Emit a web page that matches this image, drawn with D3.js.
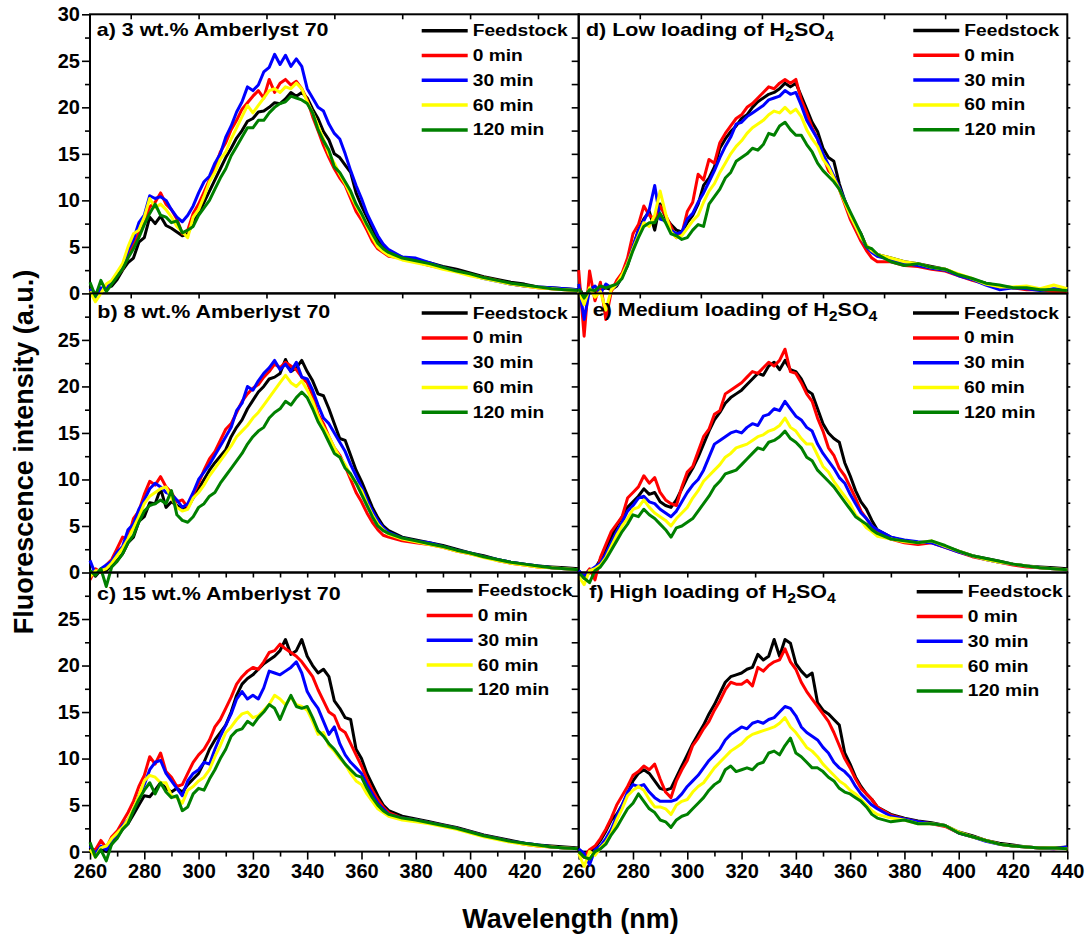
<!DOCTYPE html>
<html>
<head>
<meta charset="utf-8">
<script src="https://cdn.jsdelivr.net/npm/d3@7"></script>
<style>
  body { margin: 0; background: #fff; }
  text { font-family: "Liberation Sans", Arial, sans-serif; font-weight: bold; fill: #000; }
</style>
</head>
<body>
<svg id="chart" width="1091" height="935"></svg>
<script>
// wavelength grid (nm)
const wavelength = [
  260,262,264,266,268,270,272,274,276,278,
  280,282,284,286,288,290,292,294,296,298,
  300,302,304,306,308,310,312,314,316,318,
  320,322,324,326,328,330,332,334,336,338,
  340,342,344,346,348,350,352,354,356,358,
  360,362,364,366,368,370,
  375,380,385,390,395,400,405,410,415,420,425,430,435,440
];

// a) 3 wt.% Amberlyst 70
const pa_feed = [0.8,-0.3,0.3,0.6,0.8,1.5,2.5,3.3,3.8,5.5, 6.0,8.2,7.5,8.3,7.3,7.0,6.6,6.2,6.4,7.6, 8.6,9.8,11.0,12.2,13.4,14.6,15.6,16.7,17.5,18.5, 18.8,19.5,19.6,20.0,20.5,20.4,20.9,21.6,21.2,21.6, 21.0,19.8,18.8,17.4,16.5,15.0,14.6,13.8,13.0,10.8, 9.4,8.2,7.0,5.8,5.0,4.5, 3.9,3.6,3.3,2.9,2.6,2.2,1.8,1.5,1.2,1.0,0.7,0.6,0.5,0.4];
const pa_0min = [0.5,0.0,0.4,0.9,1.2,1.9,2.6,4.0,5.2,6.5, 7.8,9.3,9.8,10.8,9.6,9.0,8.0,6.4,6.8,8.6, 9.6,10.9,12.2,13.5,15.2,16.2,17.6,18.6,19.8,20.5, 21.2,21.8,21.0,23.0,21.6,22.6,23.0,22.4,22.8,22.0, 20.8,19.0,17.5,15.9,14.6,13.4,12.4,11.6,10.2,8.8, 7.9,6.8,5.6,4.8,4.4,4.0, 3.8,3.4,3.0,2.7,2.4,2.0,1.7,1.4,1.0,0.8,0.6,0.5,0.4,0.3];
const pa_30min = [0.5,-0.4,0.6,0.4,1.3,2.0,2.8,4.6,5.8,7.6, 8.4,10.5,10.2,10.4,10.0,9.0,8.2,7.7,8.4,9.4, 10.8,12.0,12.6,14.0,15.0,16.8,18.0,19.5,20.6,22.2, 21.8,22.4,23.8,24.3,25.7,24.6,25.6,24.4,25.2,24.4, 22.0,21.0,20.0,19.6,18.2,17.2,16.6,15.0,13.2,11.6, 10.2,8.6,7.4,6.2,5.3,4.7, 3.9,3.8,3.3,2.8,2.4,2.0,1.6,1.3,1.0,0.8,0.7,0.6,0.5,0.4];
const pa_60min = [0.2,-0.9,0.0,1.0,1.4,2.3,3.2,5.0,6.4,6.8, 8.2,10.2,9.2,9.6,9.0,8.2,7.2,6.6,6.0,8.2, 9.0,10.4,12.0,13.0,14.4,15.2,16.6,17.8,19.0,20.2, 19.4,20.2,21.0,21.8,22.0,21.6,22.2,22.0,22.6,22.0, 20.6,19.4,18.0,16.6,15.0,14.0,12.8,11.8,10.6,9.4, 8.4,7.2,6.0,5.0,4.5,4.1, 3.6,3.3,3.0,2.6,2.3,1.9,1.6,1.3,1.0,0.8,0.6,0.5,0.4,0.3];
const pa_120min = [1.2,-0.3,1.4,0.2,1.0,1.8,2.6,3.8,4.8,6.0, 7.4,8.6,9.6,8.4,8.2,7.6,7.8,6.5,6.8,7.2, 8.4,9.2,10.0,11.2,12.4,13.4,14.8,15.8,16.8,17.8, 17.8,18.6,18.6,19.4,20.0,20.4,20.6,21.2,21.0,20.8, 20.4,19.4,17.6,16.4,15.4,13.6,13.0,12.0,11.0,9.6, 8.6,7.4,6.4,5.4,4.8,4.4, 3.8,3.5,3.2,2.8,2.4,2.1,1.7,1.4,1.1,0.9,0.7,0.5,0.4,0.3];

// b) 8 wt.% Amberlyst 70
const pb_feed = [0.2,-0.4,0.3,0.2,0.8,1.3,2.0,3.2,3.8,5.5, 6.0,7.5,7.4,9.0,7.0,7.6,7.2,6.8,7.0,8.0, 9.0,10.0,11.0,11.8,12.5,13.2,14.6,15.6,16.4,17.6, 18.5,19.4,20.0,20.8,21.0,21.4,22.9,21.6,22.0,22.8, 21.6,20.6,19.2,19.0,17.6,16.0,14.4,14.2,12.6,11.0, 9.8,8.4,7.0,5.9,5.0,4.5, 3.8,3.5,3.2,2.9,2.5,2.1,1.8,1.4,1.1,0.9,0.7,0.6,0.5,0.4];
const pb_0min = [-0.8,0.4,0.0,0.8,1.4,2.6,3.8,3.6,5.8,6.6, 8.4,9.8,9.4,10.3,9.2,8.6,7.6,7.8,7.0,8.4, 9.6,11.0,12.2,13.0,14.2,15.4,16.0,17.2,18.4,19.2, 19.8,20.2,21.0,21.6,22.4,22.0,22.6,22.2,21.8,21.0, 20.4,19.0,17.0,16.0,14.6,13.4,12.6,11.4,10.0,8.6, 7.6,6.4,5.4,4.6,4.0,3.8, 3.4,3.2,3.0,2.7,2.3,2.0,1.7,1.3,1.0,0.8,0.6,0.5,0.4,0.3];
const pb_30min = [1.3,-0.2,0.4,0.8,1.2,2.2,2.8,4.6,5.2,6.8, 7.8,9.0,9.6,9.2,8.6,8.4,7.8,7.0,7.4,8.6, 10.0,10.8,11.6,12.6,13.6,14.6,15.6,17.4,18.2,20.0, 19.6,20.6,21.4,22.0,22.8,21.8,22.4,21.6,22.6,21.0, 20.8,19.6,18.0,16.6,16.0,15.0,14.0,13.0,11.6,10.4, 9.2,7.8,6.6,5.6,4.8,4.3, 3.7,3.4,3.2,2.8,2.4,2.1,1.7,1.4,1.1,0.9,0.7,0.5,0.4,0.3];
const pb_60min = [-0.5,0.2,0.2,0.4,1.0,1.8,2.6,3.6,4.8,6.0, 7.4,8.2,8.6,9.0,9.2,8.0,7.0,6.6,6.8,8.0, 8.6,9.4,10.4,11.2,12.0,12.8,13.6,14.6,15.2,15.8, 16.6,17.2,18.0,18.8,19.6,20.4,21.2,20.4,20.0,20.6, 19.6,18.4,16.8,15.6,14.6,13.4,12.4,11.6,10.4,9.6, 8.8,7.4,6.2,5.2,4.6,4.1, 3.6,3.3,3.0,2.7,2.3,2.0,1.6,1.3,1.0,0.8,0.6,0.5,0.4,0.3];
const pb_120min = [0.2,-0.3,0.4,-1.5,0.6,1.2,2.0,3.2,4.0,5.4, 6.6,7.2,7.4,7.8,7.4,8.8,6.2,5.6,5.4,6.0, 7.0,7.4,8.2,8.6,9.6,10.4,11.2,12.0,12.8,13.8, 14.6,15.2,15.6,16.6,17.2,17.6,18.4,18.0,18.8,19.4, 18.8,17.6,16.2,15.2,14.0,12.8,12.4,11.2,10.6,9.6, 8.4,7.2,6.0,5.0,4.5,4.2, 3.7,3.4,3.1,2.8,2.4,2.1,1.7,1.4,1.1,0.9,0.7,0.5,0.4,0.3];

// c) 15 wt.% Amberlyst 70
const pc_feed = [0.4,-0.4,0.4,0.0,0.8,1.6,2.4,3.0,4.0,5.0, 6.0,5.9,6.6,7.4,6.8,6.4,6.8,6.4,7.2,7.8, 8.4,9.6,11.0,12.0,12.8,13.6,15.0,16.8,18.0,18.6, 19.0,19.6,20.2,20.6,21.0,21.6,22.8,21.2,21.6,22.8, 21.0,20.0,19.2,19.6,18.8,16.2,15.4,14.4,14.2,11.0, 10.0,8.4,7.2,6.0,5.0,4.4, 3.8,3.5,3.2,2.9,2.6,2.2,1.8,1.5,1.2,0.9,0.7,0.6,0.5,0.4];
const pc_0min = [0.3,0.2,1.2,0.4,1.6,2.2,3.2,4.2,5.4,7.0, 8.2,10.2,9.4,10.6,8.6,8.0,7.0,7.2,8.4,9.6, 10.4,11.0,12.0,13.4,14.2,15.4,16.6,18.0,18.8,19.4, 19.8,19.6,20.4,21.4,21.6,22.3,21.8,21.4,21.0,20.4, 19.6,18.8,17.4,16.2,15.0,14.6,13.2,12.8,11.6,10.4, 9.2,7.8,6.6,5.6,4.8,4.2, 3.6,3.4,3.1,2.8,2.5,2.1,1.7,1.4,1.1,0.8,0.6,0.5,0.4,0.3];
const pc_30min = [0.6,-0.2,0.6,0.2,1.2,1.8,2.8,3.4,4.4,6.0, 7.2,8.8,9.6,9.8,8.4,7.6,6.8,6.0,7.6,8.4, 8.8,9.6,9.4,11.0,12.4,13.6,14.8,16.4,17.2,16.4, 16.8,16.4,17.6,19.4,19.2,19.0,19.4,19.8,20.4,19.2, 17.2,16.2,15.4,14.0,12.6,13.4,11.6,10.4,9.6,9.0, 8.4,7.2,6.2,5.2,4.6,4.0, 3.6,3.4,3.1,2.8,2.5,2.1,1.7,1.4,1.1,0.9,0.7,0.5,0.4,0.3];
const pc_60min = [0.2,-0.6,0.4,0.6,1.4,2.0,2.6,3.4,4.6,6.0, 7.6,8.2,8.0,7.4,7.4,6.0,5.8,5.2,6.6,7.0, 7.6,8.0,8.8,10.2,11.4,12.8,13.4,14.2,14.8,15.0, 14.4,14.6,15.2,15.8,16.8,16.4,15.8,16.6,15.8,15.6, 15.2,14.0,12.6,12.8,11.4,10.8,10.0,9.4,8.4,7.6, 7.2,6.2,5.4,4.6,4.2,3.8, 3.4,3.2,3.0,2.7,2.4,2.0,1.6,1.3,1.0,0.8,0.6,0.5,0.4,0.3];
const pc_120min = [1.0,-0.6,0.2,-1.0,0.8,1.4,2.4,3.0,4.4,5.6, 6.6,7.4,6.2,7.4,6.4,5.8,6.0,4.4,4.8,6.2, 6.8,6.6,7.8,8.8,10.0,11.0,12.4,13.0,13.2,14.0, 13.6,14.4,15.0,15.8,15.4,14.2,15.6,16.8,15.6,15.4, 15.6,14.4,13.0,12.4,11.6,11.0,10.2,9.4,8.8,8.2, 8.0,6.8,5.8,5.0,4.4,4.0, 3.6,3.4,3.1,2.8,2.5,2.1,1.7,1.4,1.1,0.9,0.7,0.5,0.4,0.3];

// d) Low loading of H2SO4
const pd_feed = [0.8,-0.5,0.5,0.2,0.4,0.6,0.4,0.8,1.8,3.0, 5.0,6.8,8.0,8.8,6.8,9.6,8.2,7.4,6.8,6.6, 7.6,8.4,9.6,11.6,12.4,13.6,15.6,16.6,17.4,18.0, 18.8,19.2,20.0,20.6,21.0,21.4,21.6,22.0,22.6,22.2, 22.6,21.2,19.8,18.4,17.4,15.6,14.6,14.2,11.8,10.0, 8.6,7.4,6.4,5.0,4.6,4.2, 3.8,3.4,3.2,2.9,2.6,2.0,1.5,1.1,0.8,0.6,0.6,0.4,0.4,0.3];
const pd_0min = [2.5,-4.6,2.4,-0.8,1.2,-2.8,0.2,1.4,2.2,3.8, 6.4,7.4,9.4,8.4,8.0,9.4,8.4,7.2,6.0,6.4, 8.8,9.8,12.8,12.2,14.4,14.0,16.2,17.2,18.0,18.8, 19.2,20.0,20.4,21.0,21.6,22.2,22.0,22.6,23.0,22.6, 23.0,20.8,19.4,17.8,16.6,14.8,13.2,12.6,11.2,9.6, 8.0,6.8,5.6,4.6,3.8,3.4, 3.4,3.0,2.9,2.6,2.4,1.9,1.4,1.0,0.6,0.6,0.4,0.4,0.2,0.1];
const pd_30min = [1.0,-2.8,0.4,0.8,0.0,1.0,0.6,0.9,1.8,3.2, 5.0,6.8,7.8,9.0,11.6,8.0,7.8,6.8,6.4,6.6, 8.0,8.6,9.8,10.8,12.0,13.2,14.6,15.8,16.8,18.2, 18.4,19.0,19.4,19.8,20.2,20.8,21.0,21.2,21.8,21.4, 21.6,20.2,18.6,17.6,16.6,15.0,13.8,12.6,11.4,10.0, 8.4,7.2,6.0,5.0,4.4,4.0, 3.6,3.2,3.0,2.7,2.5,1.9,1.5,0.9,0.4,0.6,0.5,0.3,0.5,0.4];
const pd_60min = [0.2,-1.2,0.6,-0.4,0.2,-1.8,0.4,1.0,2.0,3.2, 4.8,6.2,7.6,7.2,8.4,11.0,8.6,6.6,6.0,6.2, 7.0,7.8,8.4,9.8,11.0,11.8,13.0,14.0,15.0,15.8, 16.4,17.2,17.8,18.2,18.6,19.2,19.6,19.4,20.0,19.4, 19.8,19.0,17.6,16.6,15.8,14.4,13.6,12.4,11.2,9.8, 8.4,7.2,6.0,5.2,4.6,4.2, 3.8,3.4,3.2,2.8,2.6,2.1,1.6,1.0,0.7,0.7,0.8,0.5,0.9,0.5];
const pd_120min = [0.5,-0.5,0.4,0.3,0.8,0.6,0.8,1.0,1.6,3.0, 4.6,6.0,7.2,7.6,7.6,8.6,7.6,6.4,6.2,5.8, 6.0,6.8,7.4,7.2,9.6,10.4,11.2,12.4,13.0,14.2, 14.6,15.0,15.6,15.4,16.0,17.2,17.0,18.0,18.4,17.6, 17.0,17.0,16.0,15.2,14.0,13.2,12.6,12.0,11.2,10.0, 8.8,7.6,6.4,5.0,4.8,4.2, 3.4,3.0,3.2,2.8,2.6,2.0,1.6,1.1,0.9,0.6,0.6,0.4,0.4,0.3];

// e) Medium loading of H2SO4
const pe_feed = [0.2,-0.6,0.0,0.4,1.4,2.6,3.8,5.0,6.0,7.0, 7.6,8.2,9.0,8.4,8.6,7.6,7.2,7.0,7.8,9.0, 10.2,11.2,12.4,13.8,15.2,16.4,17.2,18.2,18.8,19.2, 19.6,20.2,20.8,21.4,21.2,22.2,22.6,21.8,22.8,21.8, 21.6,20.8,19.6,19.2,17.6,16.0,15.0,14.4,14.0,11.8, 10.4,8.8,7.6,6.8,5.6,4.6, 3.8,3.4,3.2,3.3,2.8,2.3,1.8,1.5,1.2,0.9,0.7,0.6,0.5,0.4];
const pe_0min = [0.0,-0.4,0.4,-0.8,1.6,3.0,4.4,5.2,6.0,8.0, 8.6,9.2,10.4,9.6,10.2,8.6,7.8,7.4,7.2,9.2, 10.8,11.4,13.0,14.6,15.4,17.0,17.4,19.2,19.6,20.0, 20.4,21.0,21.6,21.4,22.0,22.6,22.2,22.8,24.0,21.6, 21.4,20.4,19.2,18.4,16.6,15.2,13.4,12.6,11.2,10.4, 9.2,8.0,6.6,5.8,5.0,4.2, 3.6,3.2,3.0,3.2,2.7,2.2,1.7,1.4,1.1,0.8,0.6,0.5,0.4,0.3];
const pe_30min = [0.2,-0.4,0.2,0.6,1.0,2.0,3.2,4.4,5.4,6.6, 7.2,8.0,8.2,7.6,7.4,6.8,6.4,6.0,6.6,7.6, 8.6,9.4,10.0,11.0,12.4,13.8,14.2,14.6,15.0,15.2, 15.0,15.6,16.0,15.8,16.8,17.0,17.6,17.4,18.4,17.6, 16.8,16.4,15.6,15.2,13.8,12.8,12.0,11.2,10.2,9.6, 8.4,7.4,6.4,5.8,5.0,4.6, 3.8,3.5,3.3,3.2,2.7,2.2,1.8,1.4,1.1,0.9,0.7,0.5,0.4,0.3];
const pe_60min = [-0.4,-1.3,0.2,0.4,0.8,1.6,2.8,4.0,5.0,5.8, 6.8,7.0,7.8,7.0,6.4,6.0,5.6,5.0,5.8,6.4, 7.0,8.0,8.8,9.8,10.4,11.0,11.6,12.4,12.8,13.4, 13.6,13.8,14.2,14.6,14.8,15.2,15.4,15.8,16.6,15.6, 15.2,14.4,13.8,13.8,12.6,11.4,10.8,9.8,9.0,8.2, 7.4,6.2,5.6,4.8,4.4,3.9, 3.6,3.3,3.2,3.4,2.8,2.3,1.8,1.4,1.1,0.9,0.7,0.5,0.4,0.3];
const pe_120min = [0.0,-0.6,-1.1,0.2,0.6,1.4,2.4,3.4,4.4,5.2, 6.2,6.0,6.8,6.2,5.8,5.2,4.6,3.8,4.8,5.0, 5.4,5.8,6.6,7.4,8.2,9.2,9.8,10.6,10.8,11.0, 11.6,12.2,12.8,13.4,13.2,14.0,14.2,14.6,15.2,14.4, 14.0,13.4,12.4,12.0,11.0,10.4,9.8,9.2,8.4,7.6, 6.8,6.0,5.6,5.2,4.6,4.2, 3.6,3.4,3.2,3.4,2.9,2.3,1.8,1.5,1.2,0.9,0.7,0.5,0.4,0.3];

// f) High loading of H2SO4
const pf_feed = [0.2,-0.4,0.0,0.4,1.2,2.2,3.4,4.0,5.0,6.2, 7.6,8.4,8.8,8.4,7.6,6.8,6.6,6.8,8.0,9.2, 10.4,11.6,12.6,13.6,14.8,15.8,17.0,18.2,18.8,19.0, 19.2,19.6,19.8,21.2,20.6,21.0,22.8,21.0,22.8,22.4, 20.2,19.4,18.8,19.2,16.0,15.2,14.8,14.2,13.6,10.6, 9.4,8.0,7.0,6.2,5.6,4.8, 4.0,3.6,3.3,3.1,2.8,2.1,1.7,1.2,0.9,0.7,0.5,0.4,0.4,0.5];
const pf_0min = [0.0,-0.6,0.2,0.6,1.4,2.4,3.6,5.0,6.0,7.0, 8.2,8.6,9.2,8.8,9.4,7.8,6.4,5.8,7.6,8.8, 9.8,11.4,12.2,13.2,14.0,15.2,16.2,17.4,18.2,18.0, 18.0,18.4,17.8,19.8,19.4,20.0,20.4,20.6,21.8,20.4, 19.6,18.2,17.2,16.4,15.6,14.8,14.0,12.8,11.4,10.0, 9.0,7.8,6.8,6.2,5.6,4.8, 3.9,3.5,3.2,3.0,2.7,2.0,1.6,1.2,0.8,0.6,0.5,0.4,0.3,0.4];
const pf_30min = [0.3,-0.2,-1.4,0.2,0.6,1.4,2.4,3.8,5.0,6.4, 7.2,7.0,7.2,6.4,5.8,5.4,5.4,5.4,5.6,6.2, 7.0,7.6,8.2,9.0,9.8,10.4,11.0,12.0,12.6,13.0, 13.4,13.2,13.8,14.0,13.8,14.2,14.4,15.0,15.6,15.4, 14.6,13.4,12.8,12.4,12.0,11.2,10.6,9.6,9.0,8.6, 8.0,7.0,6.2,5.6,5.0,4.6, 3.8,3.5,3.2,3.0,2.8,2.0,1.6,1.1,0.8,0.6,0.5,0.4,0.3,0.5];
const pf_60min = [-0.2,-1.6,0.0,-0.4,0.4,1.0,2.0,3.4,4.6,6.0, 6.6,7.0,6.6,5.6,4.8,4.8,4.6,4.0,5.0,5.4, 5.6,6.4,7.0,7.4,8.2,9.0,9.6,10.2,10.8,11.2, 11.6,12.2,12.6,12.8,13.0,13.2,13.4,13.8,14.4,13.4, 12.8,12.0,11.2,10.8,10.2,9.4,8.8,8.2,7.6,7.2, 6.6,6.2,5.6,5.0,4.4,4.0, 3.6,3.4,3.0,3.0,2.8,2.1,1.6,1.2,0.8,0.6,0.5,0.4,0.4,0.3];
const pf_120min = [0.0,-0.6,-0.8,0.0,0.3,0.8,1.8,2.6,3.6,4.6, 5.2,6.2,5.4,4.6,4.2,3.4,3.2,2.6,3.4,3.8, 4.0,4.6,5.2,5.8,6.6,7.2,7.6,8.8,9.2,8.6, 8.8,9.0,8.8,9.4,9.6,10.6,10.8,10.4,11.4,12.2, 10.6,10.2,9.6,9.0,9.0,8.6,8.0,7.6,6.8,6.4, 6.2,5.8,5.4,4.8,4.0,3.6, 3.2,3.4,3.0,3.0,2.8,2.0,1.6,1.2,0.8,0.6,0.5,0.4,0.4,0.3];

const seriesNames = ["Feedstock", "0 min", "30 min", "60 min", "120 min"];
const seriesColors = ["#000000", "#ff0000", "#0000ff", "#ffff00", "#008000"];

// ticks
const xLabelTicks = [260, 280, 300, 320, 340, 360, 380, 400, 420, 440];
const xMinorTicks = [270, 290, 310, 330, 350, 370, 390, 410, 430];
const xTicks25 = [275, 300, 325, 350, 375, 400, 425];
const xTicks225 = [282.5, 305, 327.5, 350, 372.5, 395, 417.5];
const yLabelTicks = [0, 5, 10, 15, 20, 25, 30];
const yMinorTicks = [2.5, 7.5, 12.5, 17.5, 22.5, 27.5];
const yAllTicks = [2.5, 5, 7.5, 10, 12.5, 15, 17.5, 20, 22.5, 25, 27.5];

const panels = [
  {col: 0, row: 0, title: [["a) 3 wt.% Amberlyst 70"]], data: [pa_feed, pa_0min, pa_30min, pa_60min, pa_120min],
   bottom: "t25", tx: 6.7, ty: 26.4, lx: 331.7, ly: 16.4},
  {col: 0, row: 1, title: [["b) 8 wt.% Amberlyst 70"]], data: [pb_feed, pb_0min, pb_30min, pb_60min, pb_120min],
   bottom: "t10", tx: 7.3, ty: 29.4, lx: 331.7, ly: 19.7},
  {col: 0, row: 2, title: [["c) 15 wt.% Amberlyst 70"]], data: [pc_feed, pc_0min, pc_30min, pc_60min, pc_120min],
   bottom: "label", tx: 7, ty: 32.5, lx: 336.7, ly: 18.2},
  {col: 1, row: 0, title: [["d) Low loading of H"], ["2", 1], ["SO"], ["4", 1]], data: [pd_feed, pd_0min, pd_30min, pd_60min, pd_120min],
   bottom: "t225", tx: 7.3, ty: 26.2, lx: 334.6, ly: 16.2},
  {col: 1, row: 1, title: [["e) Medium loading of H"], ["2", 1], ["SO"], ["4", 1]], data: [pe_feed, pe_0min, pe_30min, pe_60min, pe_120min],
   bottom: "t25", tx: 14, ty: 27.4, lx: 334.3, ly: 19.7},
  {col: 1, row: 2, title: [["f) High loading of H"], ["2", 1], ["SO"], ["4", 1]], data: [pf_feed, pf_0min, pf_30min, pf_60min, pf_120min],
   bottom: "label", tx: 10.6, ty: 30.2, lx: 338, ly: 19.2}
];

const colX = [[90, 578.7], [578.7, 1067.3]];
const TOP = 14.3, PH = 279.1;
const svg = d3.select("#chart");
svg.append("rect").attr("width", 1091).attr("height", 935).attr("fill", "#fff");

function styleAxis(g) {
  g.select(".domain").remove();
  g.selectAll(".tick line").attr("stroke", "#000").attr("stroke-width", 1.6);
  g.selectAll(".tick text").style("font-size", "20px").style("font-weight", "bold")
    .style("font-family", '"Liberation Sans", Arial, sans-serif');
}

panels.forEach(p => {
  const x0 = colX[p.col][0], x1 = colX[p.col][1];
  const top = TOP + p.row * PH, bot = top + PH;
  const x = d3.scaleLinear().domain([260, 440]).range([x0, x1]);
  const y = d3.scaleLinear().domain([0, 30]).range([bot, top]);
  const g = svg.append("g");

  // bottom ticks
  if (p.bottom === "label") {
    const labs = p.col === 0 ? xLabelTicks.slice(0, -1) : xLabelTicks;
    g.append("g").attr("transform", `translate(0,${bot})`)
      .call(d3.axisBottom(x).tickValues(labs).tickSize(8).tickPadding(4.5).tickFormat(d3.format("d")))
      .call(styleAxis);
    g.append("g").attr("transform", `translate(0,${bot})`)
      .call(d3.axisBottom(x).tickValues(xMinorTicks).tickSize(5).tickFormat(""))
      .call(styleAxis);
  } else {
    const tv = p.bottom === "t25" ? xTicks25 : p.bottom === "t225" ? xTicks225 : xLabelTicks.slice(1, -1).concat(xMinorTicks);
    g.append("g").attr("transform", `translate(0,${bot})`)
      .call(d3.axisBottom(x).tickValues(tv).tickSize(5).tickFormat(""))
      .call(styleAxis);
    if (p.row === 0) {
      g.append("g").attr("transform", `translate(0,${top})`)
        .call(d3.axisBottom(x).tickValues(tv).tickSize(5).tickFormat(""))
        .call(styleAxis);
    }
  }

  // left ticks
  if (p.col === 0) {
    const labs = p.row === 0 ? yLabelTicks : yLabelTicks.slice(0, -1);
    g.append("g").attr("transform", `translate(${x0},0)`)
      .call(d3.axisLeft(y).tickValues(labs).tickSize(8).tickPadding(2))
      .call(styleAxis);
    g.append("g").attr("transform", `translate(${x0},0)`)
      .call(d3.axisLeft(y).tickValues(yMinorTicks).tickSize(5).tickFormat(""))
      .call(styleAxis);
  } else {
    g.append("g").attr("transform", `translate(${x0},0)`)
      .call(d3.axisLeft(y).tickValues(yAllTicks).tickSize(7).tickFormat(""))
      .call(styleAxis);
    g.append("g").attr("transform", `translate(${x1},0)`)
      .call(d3.axisRight(y).tickValues(yAllTicks).tickSize(3).tickFormat(""))
      .call(styleAxis);
  }

  // frame
  g.append("rect").attr("x", x0).attr("y", top).attr("width", x1 - x0).attr("height", PH)
    .attr("fill", "none").attr("stroke", "#000").attr("stroke-width", 2);

  // spectra
  const line = d3.line().x((d, i) => x(wavelength[i])).y(d => y(d));
  p.data.forEach((s, k) => {
    g.append("path").datum(s).attr("d", line).attr("fill", "none")
      .attr("stroke", seriesColors[k]).attr("stroke-width", 3)
      .attr("stroke-linejoin", "round");
  });

  // panel title
  const t = g.append("text")
    .attr("transform", `translate(${x0 + p.tx},${top + p.ty}) scale(1.13,1)`)
    .style("font-size", "19px");
  p.title.forEach(seg => {
    if (seg[1]) t.append("tspan").text(seg[0]).attr("dy", 5).style("font-size", "14px");
    else t.append("tspan").text(seg[0]).attr("dy", t.selectAll("tspan").size() ? -5 : 0);
  });

  // legend
  seriesNames.forEach((name, k) => {
    const ry = top + p.ly + k * 24.8;
    g.append("line").attr("x1", x0 + p.lx).attr("x2", x0 + p.lx + 46)
      .attr("y1", ry).attr("y2", ry).attr("stroke", seriesColors[k]).attr("stroke-width", 3.5);
    g.append("text").attr("transform", `translate(${x0 + p.lx + 51},${ry + 5.5}) scale(1.13,1)`)
      .style("font-size", "17px").text(name);
  });
});

// axis titles
svg.append("text").attr("transform", "translate(33,452) rotate(-90)")
  .attr("text-anchor", "middle").style("font-size", "27px").text("Fluorescence intensity (a.u.)");
svg.append("text").attr("x", 570.5).attr("y", 928)
  .attr("text-anchor", "middle").style("font-size", "27px").text("Wavelength (nm)");
</script>
</body>
</html>
